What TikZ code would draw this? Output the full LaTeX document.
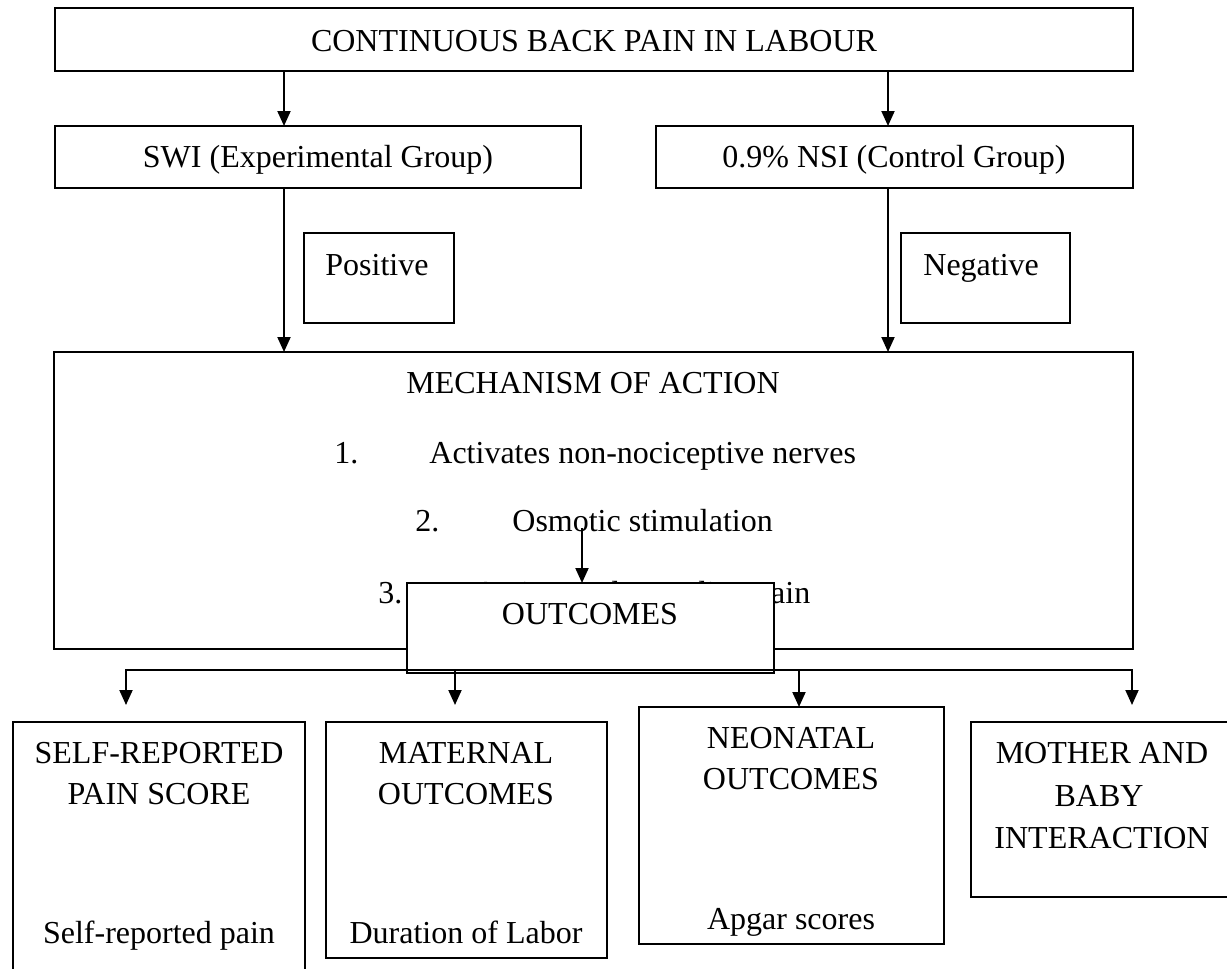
\documentclass[tikz,border=0pt]{standalone}
\usepackage{fontspec}
\setmainfont{Liberation Serif}
\usetikzlibrary{arrows.meta,calc}
\begin{document}
\begin{tikzpicture}[x=0.5pt,y=-0.5pt,
  box/.style={draw, line width=1pt, fill=white, inner sep=0pt, outer sep=0pt, anchor=north west},
  txt/.style={anchor=base, inner sep=0pt, font=\fontsize{16pt}{20.5pt}\selectfont},
  txtl/.style={txt, anchor=base west},
  arr/.style={line width=1pt, -{Triangle[width=6.5pt,length=7.5pt]}},
  ln/.style={line width=1pt}]
\useasboundingbox (0,0) rectangle (1227,969);
\clip (0,0) rectangle (1227,969);
% top
\node[box, minimum width=539pt, minimum height=31.5pt] (top) at (55,8) {};
\node[txt] (toptx) at (594,51) {CONTINUOUS BACK PAIN IN LABOUR};
% groups
\node[box, minimum width=263pt, minimum height=31pt] (swi) at (55,126) {};
\node[txt] (switx) at (318,167) {SWI (Experimental Group)};
\node[box, minimum width=238.5pt, minimum height=31pt] (nsi) at (656,126) {};
\node[txt] (nsitx) at (894,167) {0.9\% NSI (Control Group)};
% positive / negative
\node[box, minimum width=75pt, minimum height=45pt] (pos) at (304,233) {};
\node[txtl] (postx) at (325,275) {Positive};
\node[box, minimum width=84.5pt, minimum height=45pt] (neg) at (901,233) {};
\node[txtl] (negtx) at (923,275) {Negative};
% mechanism
\node[box, minimum width=539.5pt, minimum height=148.5pt] (moa) at (54,352) {};
\node[txt] (moatx) at (593,393) {MECHANISM OF ACTION};
\node[txtl] (n1) at (334,463) {1.};
\node[txtl] (m1) at (429,463) {Activates non-nociceptive nerves};
\node[txtl] (n2) at (415,531) {2.};
\node[txtl] (m2) at (512,531) {Osmotic stimulation};
\node[txtl] (n3) at (378,603) {3.};
\node[txtl] (m3) at (474,603) {Activates descending pain};
% outcomes
\node[box, minimum width=183.5pt, minimum height=45pt] (outc) at (407,583) {};
\node[txt] (outctx) at (590,624) {OUTCOMES};
% bottom boxes
\node[box, minimum width=146pt, minimum height=134pt] (self) at (13,722) {};
\node[txt] (s1) at (159,763) {SELF-REPORTED};
\node[txt] (s2) at (159,804) {PAIN SCORE};
\node[txt] (s3) at (159,943) {Self-reported pain};
\node[box, minimum width=140.5pt, minimum height=118pt] (mat) at (326,722) {};
\node[txt] (ma1) at (466,763) {MATERNAL};
\node[txt] (ma2) at (466,804) {OUTCOMES};
\node[txt] (ma3) at (466,943) {Duration of Labor};
\node[box, minimum width=152.5pt, minimum height=118.5pt] (neo) at (639,707) {};
\node[txt] (ne1) at (791,748) {NEONATAL};
\node[txt] (ne2) at (791,789) {OUTCOMES};
\node[txt] (ne3) at (791,929) {Apgar scores};
\node[box, minimum width=132pt, minimum height=87.5pt] (moth) at (971,722) {};
\node[txt] (mo1) at (1102,763) {MOTHER AND};
\node[txt] (mo2) at (1099,806) {BABY};
\node[txt] (mo3) at (1102,848) {INTERACTION};
% connectors
\coordinate (xa) at (284,0);
\coordinate (xb) at (888,0);
\draw[arr] (top.south -| xa) -- (swi.north -| xa);
\draw[arr] (top.south -| xb) -- (nsi.north -| xb);
\draw[arr] (swi.south -| xa) -- (moa.north -| xa);
\draw[arr] (nsi.south -| xb) -- (moa.north -| xb);
\coordinate (os) at (582,528);
\draw[arr] (os) -- (outc.north -| os);
\coordinate (d1) at (126,670);
\coordinate (d2) at (455,670);
\coordinate (d3) at (799,670);
\coordinate (d4) at (1132,670);
\draw[arr, shorten >=8.5pt] (d2) -- (d1) -- (self.north -| d1);
\draw[arr, shorten >=8.5pt] (d2) -- (mat.north -| d2);
\draw[ln] (d2) -- (d3);
\draw[arr] (d3) -- (neo.north -| d3);
\draw[arr, shorten >=8.5pt] (d3) -- (d4) -- (moth.north -| d4);
\end{tikzpicture}
\end{document}
